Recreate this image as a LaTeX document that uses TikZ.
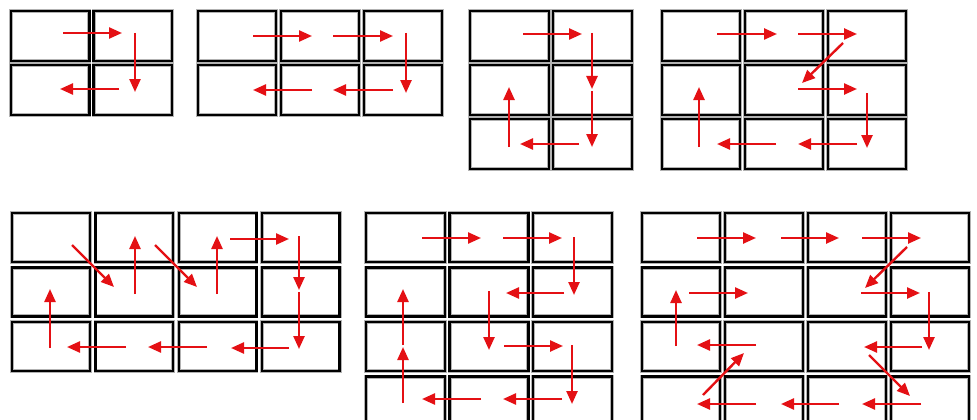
\documentclass[tikz,border=0pt]{standalone}
\usetikzlibrary{arrows.meta}
\definecolor{arr}{RGB}{228,16,20}
\tikzset{
  cellbox/.style={draw=black,line width=2.5pt},
  halo/.style={draw=black!30,line width=3.8pt},
  flow/.style={draw=arr,line width=2.4pt,-{Triangle[length=13pt,width=11pt]}}
}
% #1 x0, #2 y0, #3 cols, #4 rows, #5 pitch x, #6 pitch y, #7 width, #8 height
\newcommand\mygrid[8]{%
  \foreach \c in {1,...,#3}{\foreach \r in {1,...,#4}{%
    \path[halo] ({#1+(\c-1)*#5+1.2},{#2+(\r-1)*#6+1.2}) rectangle ++({#7-2.4},{#8-2.4});
    \path[cellbox] ({#1+(\c-1)*#5+1.2},{#2+(\r-1)*#6+1.2}) rectangle ++({#7-2.4},{#8-2.4});
  }}%
}
\begin{document}
\begin{tikzpicture}[x=1pt,y=-1pt]
\useasboundingbox[fill=white] (0,0) rectangle (977,420);
\clip (0,0) rectangle (977,420);
% panel 1
\mygrid{10}{10}{2}{2}{82.5}{54}{80.5}{52}
\draw[flow] (63,33)--(122,33);
\draw[flow] (135,33)--(135,92);
\draw[flow] (119,89)--(60,89);
% panel 2
\mygrid{197}{10}{3}{2}{83}{54}{80}{52}
\draw[flow] (253,36)--(312,36);
\draw[flow] (333,36)--(393,36);
\draw[flow] (406,33)--(406,93);
\draw[flow] (393,90)--(333,90);
\draw[flow] (312,90)--(253,90);
% panel 3
\mygrid{469}{10}{2}{3}{83}{54}{81}{52}
\draw[flow] (523,34)--(582,34);
\draw[flow] (592,33)--(592,89);
\draw[flow] (592,91)--(592,147);
\draw[flow] (579,144)--(520,144);
\draw[flow] (509,147)--(509,87);
% panel 4
\mygrid{661}{10}{3}{3}{83}{54}{80}{52}
\draw[flow] (717,34)--(777,34);
\draw[flow] (798,34)--(857,34);
\draw[flow] (843,43)--(802,83);
\draw[flow] (798,89)--(857,89);
\draw[flow] (867,93)--(867,148);
\draw[flow] (857,144)--(798,144);
\draw[flow] (776,144)--(717,144);
\draw[flow] (699,147)--(699,87);
% panel 5
\mygrid{11}{212}{4}{3}{83.3}{54.5}{80}{51}
\draw[flow] (72,245)--(114,287);
\draw[flow] (135,294)--(135,236);
\draw[flow] (155,245)--(197,287);
\draw[flow] (217,294)--(217,236);
\draw[flow] (230,239)--(289,239);
\draw[flow] (299,236)--(299,290);
\draw[flow] (299,292)--(299,349);
\draw[flow] (289,348)--(231,348);
\draw[flow] (207,347)--(148,347);
\draw[flow] (126,347)--(67,347);
\draw[flow] (50,348)--(50,289);
% panel 6
\mygrid{365}{212}{3}{4}{83.5}{54.5}{81}{51}
\draw[flow] (422,238)--(481,238);
\draw[flow] (503,238)--(562,238);
\draw[flow] (574,237)--(574,295);
\draw[flow] (564,293)--(506,293);
\draw[flow] (489,291)--(489,350);
\draw[flow] (504,346)--(563,346);
\draw[flow] (572,345)--(572,404);
\draw[flow] (562,399)--(503,399);
\draw[flow] (481,399)--(422,399);
\draw[flow] (403,403)--(403,347);
\draw[flow] (403,345)--(403,289);
% panel 7
\mygrid{641}{212}{4}{4}{83}{54.5}{80}{51}
\draw[flow] (697,238)--(756,238);
\draw[flow] (781,238)--(839,238);
\draw[flow] (862,238)--(921,238);
\draw[flow] (907,247)--(865,288);
\draw[flow] (861,293)--(920,293);
\draw[flow] (929,292)--(929,350);
\draw[flow] (922,347)--(864,347);
\draw[flow] (869,355)--(910,396);
\draw[flow] (921,404)--(862,404);
\draw[flow] (839,404)--(781,404);
\draw[flow] (756,404)--(697,404);
\draw[flow] (703,395)--(744,353);
\draw[flow] (756,345)--(697,345);
\draw[flow] (676,346)--(676,290);
\draw[flow] (689,293)--(748,293);
\end{tikzpicture}
\end{document}
